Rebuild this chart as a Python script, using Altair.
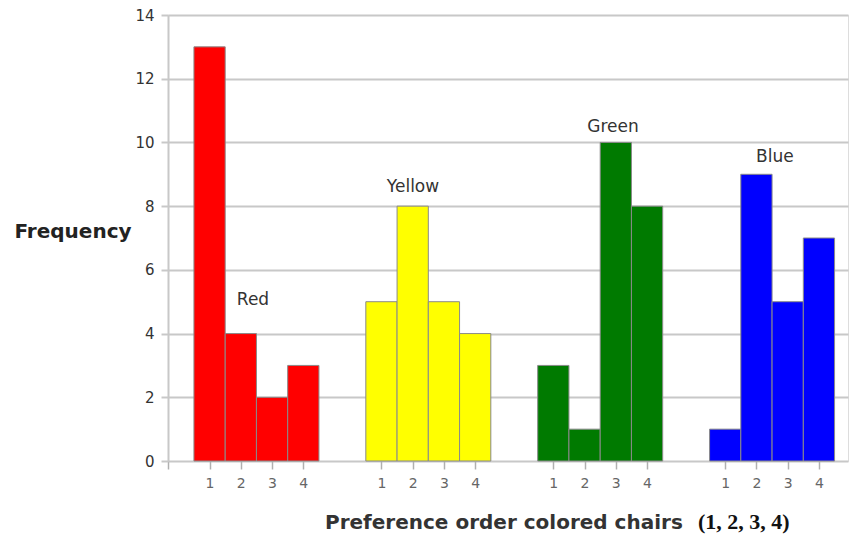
import altair as alt
import pandas as pd

colors = ["Red", "Yellow", "Green", "Blue"]
fills = ["#ff0000", "#ffff00", "#007a00", "#0000ff"]
ranks = [1, 2, 3, 4]
freq_red = [13, 4, 2, 3]
freq_yellow = [5, 8, 5, 4]
freq_green = [3, 1, 10, 8]
freq_blue = [1, 9, 5, 7]

# group label placement (in bar-width units along x, frequency units along y)
label_x = [2.72, 7.84, 14.24, 19.42]
label_y = [5.05, 8.6, 10.5, 9.55]

group_gap = 5.5    # distance between group starts, in bar widths
left_offset = 0.83  # space before the first bar, in bar widths
x_max = 21.76

rows = []
for g, (name, vals) in enumerate(zip(colors, [freq_red, freq_yellow, freq_green, freq_blue])):
    for i, (r, v) in enumerate(zip(ranks, vals)):
        start = left_offset + g * group_gap + i
        rows.append({"color": name, "rank": r, "freq": v,
                     "x0": start, "x1": start + 1, "xc": start + 0.5})
df = pd.DataFrame(rows)

tick_vals = [0.0] + list(df["xc"])
label_expr = "datum.value == 0 ? '' : '' + (floor(((datum.value - %f) %% %f)) + 1)" % (left_offset, group_gap)

labels = pd.DataFrame({"color": colors, "lx": label_x, "ly": label_y})

W, H = 680, 446

x_scale = alt.Scale(domain=[0, x_max], nice=False, zero=False)
y_scale = alt.Scale(domain=[0, 14], nice=False)

bars = alt.Chart(df).mark_rect(stroke="#8a8a8a", strokeWidth=1).encode(
    x=alt.X("x0:Q", scale=x_scale,
            axis=alt.Axis(values=tick_vals, labelExpr=label_expr, title=None,
                          grid=False, domain=False, ticks=True, tickSize=8,
                          tickColor="#b0b0b0", tickWidth=1.5,
                          labelColor="#666666", labelFont="DejaVu Sans",
                          labelFontSize=14, labelPadding=7)),
    x2="x1:Q",
    y=alt.Y("freq:Q", scale=y_scale,
            axis=alt.Axis(values=list(range(0, 15, 2)), title=None,
                          grid=True, gridColor="#c8c8c8", gridWidth=2,
                          domain=True, domainColor="#c8c8c8", domainWidth=2,
                          ticks=True, tickSize=7, tickColor="#c8c8c8", tickWidth=2,
                          labelColor="#333333", labelFont="DejaVu Sans",
                          labelFontSize=15, labelPadding=7)),
    y2=alt.datum(0),
    fill=alt.Fill("color:N", scale=alt.Scale(domain=colors, range=fills), legend=None),
)

group_text = alt.Chart(labels).mark_text(
    font="DejaVu Sans", fontSize=17, color="#333333", baseline="middle", align="center"
).encode(
    x=alt.X("lx:Q", scale=x_scale),
    y=alt.Y("ly:Q", scale=y_scale),
    text="color:N",
)

title_df = pd.DataFrame({"t": ["Frequency"]})
y_title = alt.Chart(title_df).mark_text(
    font="DejaVu Sans", fontSize=20, fontWeight="bold", color="#222222",
    align="center", baseline="middle"
).encode(x=alt.value(-95), y=alt.value(217), text="t:N")

xt1 = alt.Chart(pd.DataFrame({"t": ["Preference order colored chairs"]})).mark_text(
    font="DejaVu Sans", fontSize=20, fontWeight="bold", color="#333333",
    align="left", baseline="middle"
).encode(x=alt.value(157), y=alt.value(508), text="t:N")

xt2 = alt.Chart(pd.DataFrame({"t": ["(1, 2, 3, 4)"]})).mark_text(
    font="Liberation Serif", fontSize=22, fontWeight="bold", color="#111111",
    align="left", baseline="middle"
).encode(x=alt.value(530), y=alt.value(507), text="t:N")

chart = alt.layer(bars, group_text, y_title, xt1, xt2).properties(
    width=W, height=H,
    autosize=alt.AutoSizeParams(type="none"),
    padding={"left": 168, "top": 15, "right": 1, "bottom": 74},
).configure_view(stroke=None).configure(background="white")

chart.save("out.html", embed_options={"renderer": "svg", "actions": False})
